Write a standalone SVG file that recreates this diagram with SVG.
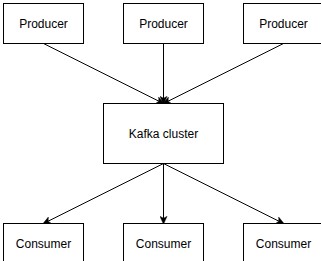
<svg xmlns="http://www.w3.org/2000/svg" width="321" height="261" viewBox="0 0 321 261">
  <style>
    .box { fill: #ffffff; stroke: #000000; stroke-width: 1; }
    .label { font-family: "Liberation Sans", Arial, Helvetica, sans-serif; font-size: 12px; fill: #000000; text-anchor: middle; dominant-baseline: central; }
    .edge { fill: none; stroke: #000000; stroke-width: 1; }
  </style>
  <defs>
    <marker id="arrow" viewBox="0 0 10 10" refX="9" refY="5" markerWidth="8" markerHeight="8" markerUnits="userSpaceOnUse" orient="auto">
      <path d="M0,0.5 L10,5 L0,9.5 L2.5,5 Z" fill="#000000" stroke="#000000" stroke-width="0.5"/>
    </marker>
  </defs>
  <rect x="0" y="0" width="321" height="261" fill="#ffffff"/>

  <g id="connectors">
    <path class="edge" d="M43.5,43.5 L163.5,103.5" marker-end="url(#arrow)"/>
    <path class="edge" d="M163.5,43.5 L163.5,103.5" marker-end="url(#arrow)"/>
    <path class="edge" d="M283.5,43.5 L163.5,103.5" marker-end="url(#arrow)"/>
    <path class="edge" d="M163.5,163.5 L43.5,223.5" marker-end="url(#arrow)"/>
    <path class="edge" d="M163.5,163.5 L163.5,223.5" marker-end="url(#arrow)"/>
    <path class="edge" d="M163.5,163.5 L283.5,223.5" marker-end="url(#arrow)"/>
  </g>

  <g id="producer-1">
    <rect class="box" x="3.5" y="3.5" width="80" height="40"/>
    <text class="label" x="43.5" y="23.5">Producer</text>
  </g>
  <g id="producer-2">
    <rect class="box" x="123.5" y="3.5" width="80" height="40"/>
    <text class="label" x="163.5" y="23.5">Producer</text>
  </g>
  <g id="producer-3">
    <rect class="box" x="243.5" y="3.5" width="80" height="40"/>
    <text class="label" x="283.5" y="23.5">Producer</text>
  </g>

  <g id="kafka-cluster">
    <rect class="box" x="103.5" y="103.5" width="120" height="60"/>
    <text class="label" x="163.5" y="133.5">Kafka cluster</text>
  </g>

  <g id="consumer-1">
    <rect class="box" x="3.5" y="223.5" width="80" height="40"/>
    <text class="label" x="43.5" y="243.5">Consumer</text>
  </g>
  <g id="consumer-2">
    <rect class="box" x="123.5" y="223.5" width="80" height="40"/>
    <text class="label" x="163.5" y="243.5">Consumer</text>
  </g>
  <g id="consumer-3">
    <rect class="box" x="243.5" y="223.5" width="80" height="40"/>
    <text class="label" x="283.5" y="243.5">Consumer</text>
  </g>
</svg>
